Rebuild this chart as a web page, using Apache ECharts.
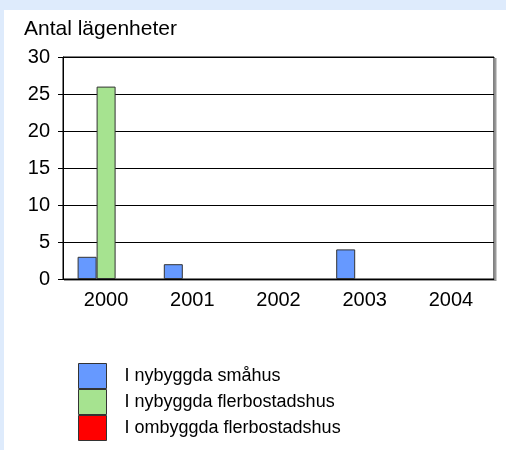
<!DOCTYPE html>
<html>
<head>
<meta charset="utf-8">
<script src="https://cdn.jsdelivr.net/npm/echarts@6/dist/echarts.min.js"></script>
<style>
  html, body { margin: 0; padding: 0; background: #deebfc; }
  #chart { width: 506px; height: 450px; }
</style>
</head>
<body>
<div id="chart"></div>
<script>
// data
const years = ['2000', '2001', '2002', '2003', '2004'];
const smahus = [3, 2, 0, 4, 0];        // I nybyggda småhus
const flerbostad = [26, 0, 0, 0, 0];   // I nybyggda flerbostadshus
const ombyggda = [0, 0, 0, 0, 0];      // I ombyggda flerbostadshus
const seriesNames = ['I nybyggda småhus', 'I nybyggda flerbostadshus', 'I ombyggda flerbostadshus'];

const font = 'Liberation Sans, Arial, sans-serif';
const chart = echarts.init(document.getElementById('chart'));

// zero values are not drawn in the original (no empty bar outline)
const hideZero = (arr) => arr.map(v => (v === 0 ? '-' : v));
const barStyle = (c) => ({ color: c, borderColor: '#333', borderWidth: 1 });

const option = {
  backgroundColor: '#deebfc',
  animation: false,
  textStyle: { fontFamily: font, color: '#000' },
  graphic: [
    { type: 'rect', z: -10, shape: { x: 4, y: 10, width: 502, height: 440 }, style: { fill: '#fff' } },
    // grey shadow along right and bottom edge of plot
    { type: 'line', shape: { x1: 495.5, y1: 58, x2: 495.5, y2: 281 }, style: { stroke: '#999', lineWidth: 2 } },
    { type: 'line', shape: { x1: 64, y1: 280.5, x2: 496, y2: 280.5 }, style: { stroke: '#999', lineWidth: 1 } }
  ],
  title: {
    text: 'Antal lägenheter',
    left: 24, top: 19, padding: 0,
    textStyle: { fontSize: 21, fontWeight: 'normal', fontFamily: font, color: '#000' }
  },
  legend: {
    orient: 'vertical',
    left: 78, top: 363,
    padding: 0,
    itemWidth: 28, itemHeight: 25, itemGap: 0,
    icon: 'rect',
    itemStyle: { borderColor: '#333', borderWidth: 1 },
    textStyle: { fontSize: 18, fontFamily: font, color: '#000', padding: [0, 0, 0, 13], lineHeight: 25 },
    data: seriesNames
  },
  grid: {
    left: 63, top: 57, right: 12, bottom: 171,
    show: true, borderColor: '#000', borderWidth: 1
  },
  xAxis: {
    type: 'category',
    data: years,
    axisLine: { lineStyle: { color: '#000' } },
    axisTick: { show: false },
    axisLabel: { fontSize: 20, color: '#000', margin: 11 }
  },
  yAxis: {
    type: 'value',
    min: 0, max: 30, interval: 5,
    axisLine: { show: true, lineStyle: { color: '#000' } },
    axisTick: { show: true, length: 5, lineStyle: { color: '#000' } },
    splitLine: { lineStyle: { color: '#000' } },
    axisLabel: { fontSize: 20, color: '#000', margin: 13 }
  },
  series: [
    { name: seriesNames[0], type: 'bar', data: hideZero(smahus), barWidth: 19, barGap: '0%', itemStyle: barStyle('#6699ff') },
    { name: seriesNames[1], type: 'bar', data: hideZero(flerbostad), barWidth: 19, barGap: '0%', itemStyle: barStyle('#a6e390') },
    { name: seriesNames[2], type: 'bar', data: hideZero(ombyggda), barWidth: 19, barGap: '0%', itemStyle: barStyle('#ff0000') }
  ]
};
chart.setOption(option);
</script>
</body>
</html>
